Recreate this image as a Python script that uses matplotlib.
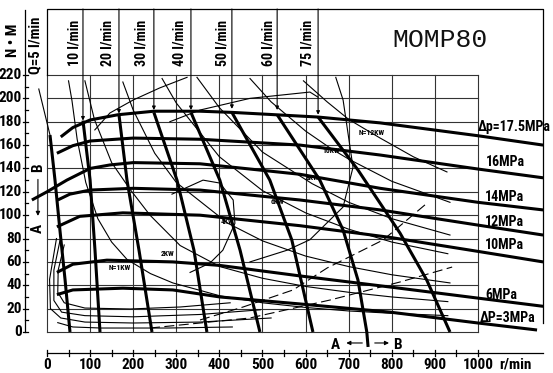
import matplotlib
matplotlib.use('Agg')
import matplotlib.pyplot as plt
from matplotlib import font_manager

# axis ticks
rpm_ticks = list(range(0, 1001, 100))
torque_ticks = list(range(0, 221, 20))

# pressure-drop curves: speed (r/min) -> torque (N·m)
p175_rpm = [32, 60, 100, 165, 248, 355, 429, 629, 773, 1000, 1151]
p175_nm = [167, 175, 181.5, 186, 189, 189, 188, 184, 179, 168, 160]
p16_rpm = [23, 60, 100, 200, 355, 587, 773, 1000, 1151]
p16_nm = [153, 159.5, 163.5, 166, 165, 160, 151.5, 139.5, 132]
p14_rpm = [-35, 0, 46, 100, 146, 200, 355, 587, 773, 1000, 1151]
p14_nm = [113, 120, 130, 140, 143, 145, 144, 135, 123, 111, 104.5]
p12_rpm = [25, 53, 100, 200, 355, 587, 773, 1000, 1151]
p12_nm = [113, 118, 121.5, 123, 121.5, 113, 104.5, 91.5, 83]
p10_rpm = [23, 76, 176, 355, 587, 796, 1000, 1151]
p10_nm = [90, 99, 102, 100, 91, 81, 69, 60]
p6_rpm = [23, 60, 139, 292, 401, 587, 796, 1000, 1151]
p6_nm = [51, 58, 61.5, 60, 57, 48, 38.5, 29, 22]
p3_rpm = [23, 60, 176, 292, 401, 587, 796, 1000, 1137]
p3_nm = [32, 36, 37.5, 36, 30, 24, 17, 7.7, 1.7]
p_labels = ['Δp=17.5MPa', '16MPa', '14MPa', '12MPa', '10MPa', '6MPa', 'ΔP=3MPa']
p_label_rpm = [1000, 1018, 1016, 1016, 1016, 1016, 1005]
p_label_nm = [175.5, 145.5, 115.6, 94.2, 74.5, 31.7, 12]

# flow lines
q5_rpm = [7, 18.6, 30, 42, 53.4]
q5_nm = [168.6, 130, 87.3, 44.5, 0]
q10_rpm = [83.5, 100, 111.4, 123]
q10_nm = [181, 130, 70, 0]
q20_rpm = [167, 185.6, 213.5, 243.6]
q20_nm = [186, 130, 70, 0]
q30_rpm = [248, 301.6, 341, 371]
q30_nm = [188, 130, 70, 0]
q40_rpm = [334, 401, 448, 494]
q40_nm = [188, 130, 70, 0]
q50_rpm = [429, 517, 568, 617]
q50_nm = [188, 130, 78.8, 0]
q60_rpm = [534, 633, 687, 721.5, 742, 745]
q60_nm = [186, 130, 87.3, 44.5, 0, -12.8]
q75_rpm = [629, 721.5, 819, 881, 935]
q75_nm = [184, 138.7, 84.7, 44.5, 0]
q_labels = ['10 l/min', '20 l/min', '30 l/min', '40 l/min', '50 l/min', '60 l/min', '75 l/min']
q_label_rpm = [65, 141.5, 220, 308.6, 408, 513, 605.5]
q_div_rpm = [83.5, 167, 248, 334, 429, 534, 629]
q_div_tip = [181, 187, 190, 190, 191, 190, 186]

# output power lines
n12_rpm = [595, 650, 700, 773, 850, 928]
n12_nm = [215, 197, 182, 166, 150, 137]
n10_rpm = [471, 520, 600, 659, 700, 800, 935]
n10_nm = [217, 197, 172, 157, 148, 129, 111]
n8_rpm = [348, 400, 500, 615, 700, 800, 935]
n8_nm = [218, 192, 154, 127, 111, 97, 83]
n6_rpm = [267, 300, 400, 500, 600, 700, 800, 930]
n6_nm = [217, 196, 150, 121, 102, 88, 77, 67]
n4_rpm = [176, 200, 250, 300, 420, 500, 600, 700, 800, 935]
n4_nm = [214, 190, 153, 128, 93, 78, 65, 56, 49, 42]
n2_rpm = [88, 110, 150, 193, 239, 309, 401, 500, 600, 700, 800, 930]
n2_nm = [215, 182, 145, 122, 100, 74, 56, 46, 39, 34, 30, 26]
n1_rpm = [50, 58, 70, 90, 118, 150, 186, 240, 292, 401, 500, 600, 700, 800, 930]
n1_nm = [215, 198, 165, 128, 97, 77, 62, 50, 42, 31, 25, 21, 18, 16, 14]
n_labels = ['N=12KW', '10KW', '8KW', '6KW', '4KW', '2KW', 'N=1KW']
n_label_rpm = [754, 659, 615, 534, 420, 281, 169]
n_label_nm = [171, 155, 132, 112, 95, 67.6, 54.8]

# efficiency contours
e1_rpm = [40, 26, 25, 40, 88, 193, 309, 425]
e1_nm = [74.5, 53, 34, 25, 20.5, 19.7, 21.4, 25]
e2_rpm = [30, 16, 16, 34, 88, 200, 355, 495]
e2_nm = [78, 53, 27, 17, 14, 13, 15, 19]
e3_rpm = [22, 6, 8, 32, 88, 200, 355, 520]
e3_nm = [80, 45, 20, 12, 8.5, 7.7, 8.5, 12]
e4_rpm = [25, 60, 125, 280, 430]
e4_nm = [8, 4.3, 3.4, 3.4, 4.3]
e5_rpm = [111, 146, 200, 262, 325]
e5_nm = [173, 187.5, 198.6, 209, 218]
e6_rpm = [285, 355, 471, 610, 629]
e6_nm = [180, 190, 200, 205.4, 201]
e7_rpm = [290, 362, 401, 432, 436, 408, 378, 332]
e7_nm = [118, 130, 127.5, 113, 93, 70, 59, 51]
e8_rpm = [670, 687, 710, 687, 610, 557, 471]
e8_nm = [218, 198.6, 141, 107, 79, 70, 60]

# dashed lines
d1_rpm = [355, 455, 571, 650, 780, 884]
d1_nm = [10.3, 21.4, 36, 54.8, 78.8, 111]
d2_rpm = [239, 471, 657, 819, 940]
d2_nm = [3.4, 12, 27.4, 42.8, 55.6]

# narrow bold face for the drawing lettering, if one is available
names = {f.name for f in font_manager.fontManager.ttflist}
narrow = [n for n in ['Roboto Condensed', 'Liberation Sans Narrow', 'Open Sans Condensed',
                      'DejaVu Sans Condensed'] if n in names]
FONT = dict(family=narrow + ['DejaVu Sans'], weight='bold', stretch='condensed')
scale = 1.0 if narrow else 0.82

fig = plt.figure(figsize=(5.53, 3.73), dpi=100)
ax = fig.add_axes([0, 0, 1, 1])
ax.set_xlim(-109, 1174)
ax.set_ylim(-35.1, 284.2)
ax.axis('off')

# grid
for r in rpm_ticks:
    ax.plot([r, r], [0, 220], color='#333333', lw=0.8, zorder=1)
for t in torque_ticks:
    ax.plot([0, 1000], [t, t], color='#333333', lw=0.8, zorder=1)

# header frame
ax.plot([0, 0, 1151, 1151], [220, 276.5, 276.5, 7.7], color='black', lw=0.9)
for r, tip in zip(q_div_rpm, q_div_tip):
    ax.annotate('', xy=(r, tip), xytext=(r, 276.5),
                arrowprops=dict(arrowstyle='-|>', lw=0.8, color='black',
                                mutation_scale=5, shrinkA=0, shrinkB=0))
for lab, r in zip(q_labels, q_label_rpm):
    ax.text(r, 227.5, lab, rotation=90, ha='center', va='bottom', fontsize=10 * scale, **FONT)
ax.text(-28, 221, 'Q=5 l/min', rotation=90, ha='center', va='bottom', fontsize=10.5 * scale, **FONT)
ax.plot([-19, 7], [208, 168.6], color='black', lw=0.8)
ax.text(912, 250, 'MOMP80', ha='center', va='center', fontsize=19,
        family='Liberation Mono', color='#111111')

# thin lines
thin = dict(color='black', lw=0.8, zorder=2)
for xs, ys in [(n12_rpm, n12_nm), (n10_rpm, n10_nm), (n8_rpm, n8_nm), (n6_rpm, n6_nm),
               (n4_rpm, n4_nm), (n2_rpm, n2_nm), (n1_rpm, n1_nm),
               (e1_rpm, e1_nm), (e2_rpm, e2_nm), (e3_rpm, e3_nm), (e4_rpm, e4_nm),
               (e5_rpm, e5_nm), (e6_rpm, e6_nm), (e7_rpm, e7_nm), (e8_rpm, e8_nm)]:
    ax.plot(xs, ys, **thin)
for xs, ys in [(d1_rpm, d1_nm), (d2_rpm, d2_nm)]:
    ax.plot(xs, ys, color='black', lw=0.8, dashes=(9, 4), zorder=2)
for lab, r, t in zip(n_labels, n_label_rpm, n_label_nm):
    ax.text(r, t, lab, ha='center', va='center', fontsize=5.5 * scale, **FONT)

# thick lines
thick = dict(color='black', lw=2.2, zorder=3, solid_capstyle='butt')
for xs, ys in [(p175_rpm, p175_nm), (p16_rpm, p16_nm), (p14_rpm, p14_nm), (p12_rpm, p12_nm),
               (p10_rpm, p10_nm), (p6_rpm, p6_nm), (p3_rpm, p3_nm),
               (q5_rpm, q5_nm), (q10_rpm, q10_nm), (q20_rpm, q20_nm), (q30_rpm, q30_nm),
               (q40_rpm, q40_nm), (q50_rpm, q50_nm), (q60_rpm, q60_nm), (q75_rpm, q75_nm)]:
    ax.plot(xs, ys, **thick)
for lab, r, t in zip(p_labels, p_label_rpm, p_label_nm):
    ax.text(r, t, lab, ha='left', va='center', fontsize=10 * scale, **FONT)

# torque axis
ax.plot([-51, -51], [0, 275.6], color='black', lw=0.9)
for t in torque_ticks:
    ax.plot([-56, -44], [t, t], color='black', lw=0.9)
    ax.text(-58, t, str(t), ha='right', va='center', fontsize=11 * scale, **FONT)
for t in range(10, 221, 20):
    ax.plot([-51, -44], [t, t], color='black', lw=0.9)
ax.text(-79, 250, 'N • M', rotation=90, ha='center', va='center', fontsize=11 * scale, **FONT)

# A/B direction marks
ax.text(-21, 141, 'B', rotation=90, ha='center', va='center', fontsize=11 * scale, **FONT)
ax.text(-21, 89, 'A', rotation=90, ha='center', va='center', fontsize=11 * scale, **FONT)
ax.annotate('', xy=(-21, 97), xytext=(-21, 133),
            arrowprops=dict(arrowstyle='-|>', lw=0.8, color='black', mutation_scale=6))
ax.text(668, -11.5, 'A', ha='center', va='center', fontsize=11 * scale, **FONT)
ax.text(812, -11.5, 'B', ha='center', va='center', fontsize=11 * scale, **FONT)
ax.annotate('', xy=(688, -9.4), xytext=(738, -9.4),
            arrowprops=dict(arrowstyle='-|>', lw=0.8, color='black', mutation_scale=6))
ax.annotate('', xy=(800, -9.4), xytext=(754, -9.4),
            arrowprops=dict(arrowstyle='-|>', lw=0.8, color='black', mutation_scale=6))

# speed axis
ax.plot([0, 1151], [-18, -18], color='black', lw=0.9)
for r in range(0, 1001, 50):
    ax.plot([r, r], [-20.5, -15.5], color='black', lw=0.9)
for r in rpm_ticks:
    ax.text(r, -28, str(r), ha='center', va='center', fontsize=11 * scale, **FONT)
ax.text(1050, -28, 'r/min', ha='left', va='center', fontsize=11 * scale, **FONT)

fig.savefig('out.png', dpi=100)
